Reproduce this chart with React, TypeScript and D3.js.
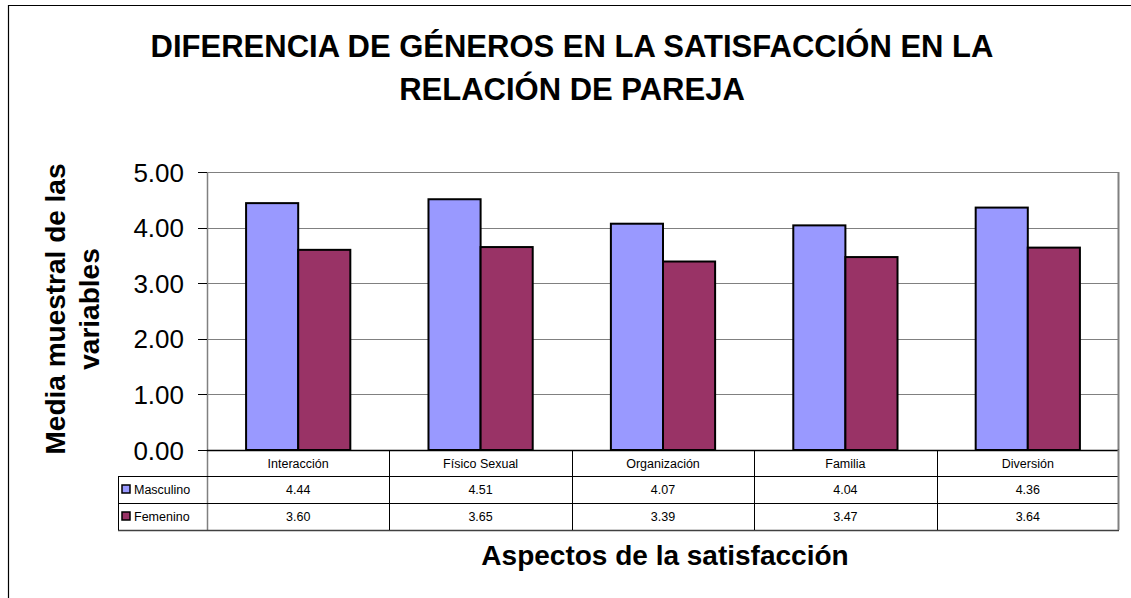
import React from "react";
import * as d3 from "d3";

const categories = ["Interacción", "Físico Sexual", "Organización", "Familia", "Diversión"];
const seriesNames = ["Masculino", "Femenino"];
const masculino = [4.44, 4.51, 4.07, 4.04, 4.36];
const femenino = [3.6, 3.65, 3.39, 3.47, 3.64];
const yTicks = [0, 1, 2, 3, 4, 5];
const colors = ["#9999FF", "#993366"];

const FONT = "Arial, 'Liberation Sans', sans-serif";

export default function App() {
  const W = 1131, H = 598;
  const left = 207, right = 1119, top = 172, bottom = 450;
  const values = [masculino, femenino];

  const x0 = d3.scaleBand<string>().domain(categories).range([left, right]).paddingInner(0).paddingOuter(0);
  const y = d3.scaleLinear().domain([0, 5]).range([bottom, top]);
  const bw = x0.bandwidth() / 3.5;
  const x1 = d3.scaleBand<string>().domain(seriesNames).range([0, bw * 2]);

  const rowH = [451, 476, 503, 530];
  const legendLeft = 118;

  return (
    <svg width={W} height={H} style={{ position: "absolute", left: 0, top: 0, background: "#fff" }}>
      <rect x={0} y={0} width={W} height={H} fill="#fff" />
      {/* outer border */}
      <path d={`M8.5,${H} V5.5 H${W}`} fill="none" stroke="#000" strokeWidth={1.2} />

      {/* title */}
      <text x={572} y={57} textAnchor="middle" fontFamily={FONT} fontWeight="bold" fontSize={31} fill="#000">
        DIFERENCIA DE GÉNEROS EN LA SATISFACCIÓN EN LA
      </text>
      <text x={572} y={100} textAnchor="middle" fontFamily={FONT} fontWeight="bold" fontSize={31} fill="#000">
        RELACIÓN DE PAREJA
      </text>

      {/* gridlines */}
      {yTicks.filter(t => t > 0).map(t => (
        <line key={t} x1={left} x2={right} y1={Math.round(y(t)) + 0.5} y2={Math.round(y(t)) + 0.5} stroke="#808080" strokeWidth={1} />
      ))}
      {/* plot frame */}
      <line x1={right - 0.5} x2={right - 0.5} y1={top} y2={bottom} stroke="#808080" strokeWidth={2} />
      <line x1={left + 0.5} x2={left + 0.5} y1={top} y2={rowH[3]} stroke="#808080" strokeWidth={1.5} />

      {/* bars */}
      {categories.map((c, i) => (
        <g key={c} transform={`translate(${(x0(c) as number) + (x0.bandwidth() - bw * 2) / 2},0)`}>
          {seriesNames.map((s, j) => (
            <rect key={s} x={x1(s)} y={y(values[j][i])} width={x1.bandwidth()} height={bottom - y(values[j][i])}
              fill={colors[j]} stroke="#000" strokeWidth={2} />
          ))}
        </g>
      ))}

      {/* y axis ticks & labels */}
      {yTicks.map(t => (
        <g key={t}>
          <line x1={198} x2={left} y1={Math.round(y(t)) + 0.5} y2={Math.round(y(t)) + 0.5} stroke="#000" strokeWidth={1} />
          <text x={184} y={y(t) + 9.5} textAnchor="end" fontFamily={FONT} fontSize={26} fill="#000">
            {d3.format(".2f")(t)}
          </text>
        </g>
      ))}
      {/* baseline */}
      <line x1={left} x2={right} y1={bottom + 0.5} y2={bottom + 0.5} stroke="#000" strokeWidth={1.5} />

      {/* y axis title */}
      <g transform={`translate(65,309) rotate(-90)`}>
        <text x={0} y={0} textAnchor="middle" fontFamily={FONT} fontWeight="bold" fontSize={28} fill="#000">Media muestral de las</text>
        <text x={0} y={34} textAnchor="middle" fontFamily={FONT} fontWeight="bold" fontSize={28} fill="#000">variables</text>
      </g>

      {/* data table */}
      <line x1={legendLeft} x2={right} y1={rowH[1] + 0.5} y2={rowH[1] + 0.5} stroke="#000" />
      <line x1={legendLeft} x2={right} y1={rowH[2] + 0.5} y2={rowH[2] + 0.5} stroke="#000" />
      <line x1={legendLeft} x2={right} y1={rowH[3] + 0.5} y2={rowH[3] + 0.5} stroke="#404040" strokeWidth={1.5} />
      <line x1={legendLeft + 0.5} x2={legendLeft + 0.5} y1={rowH[1]} y2={rowH[3]} stroke="#000" />
      {categories.map((c, i) => i > 0 ? (
        <line key={c} x1={Math.round(x0(c) as number) + 0.5} x2={Math.round(x0(c) as number) + 0.5} y1={bottom} y2={rowH[3]} stroke="#000" />
      ) : null)}
      <line x1={right - 0.5} x2={right - 0.5} y1={bottom} y2={rowH[3]} stroke="#808080" strokeWidth={2} />

      {categories.map((c, i) => (
        <g key={c}>
          <text x={(x0(c) as number) + x0.bandwidth() / 2} y={rowH[0] + 17} textAnchor="middle" fontFamily={FONT} fontSize={12.5} fill="#000">{c}</text>
          {values.map((v, j) => (
            <text key={j} x={(x0(c) as number) + x0.bandwidth() / 2} y={rowH[j + 1] + 18} textAnchor="middle" fontFamily={FONT} fontSize={12.5} fill="#000">
              {d3.format(".2f")(v[i])}
            </text>
          ))}
        </g>
      ))}
      {seriesNames.map((s, j) => (
        <g key={s}>
          <rect x={122} y={rowH[j + 1] + 9} width={8} height={8} fill={colors[j]} stroke="#000" strokeWidth={1.5} />
          <text x={134} y={rowH[j + 1] + 18} fontFamily={FONT} fontSize={12.5} fill="#000">{s}</text>
        </g>
      ))}

      {/* x axis title */}
      <text x={665} y={565} textAnchor="middle" fontFamily={FONT} fontWeight="bold" fontSize={28} fill="#000">
        Aspectos de la satisfacción
      </text>
    </svg>
  );
}
